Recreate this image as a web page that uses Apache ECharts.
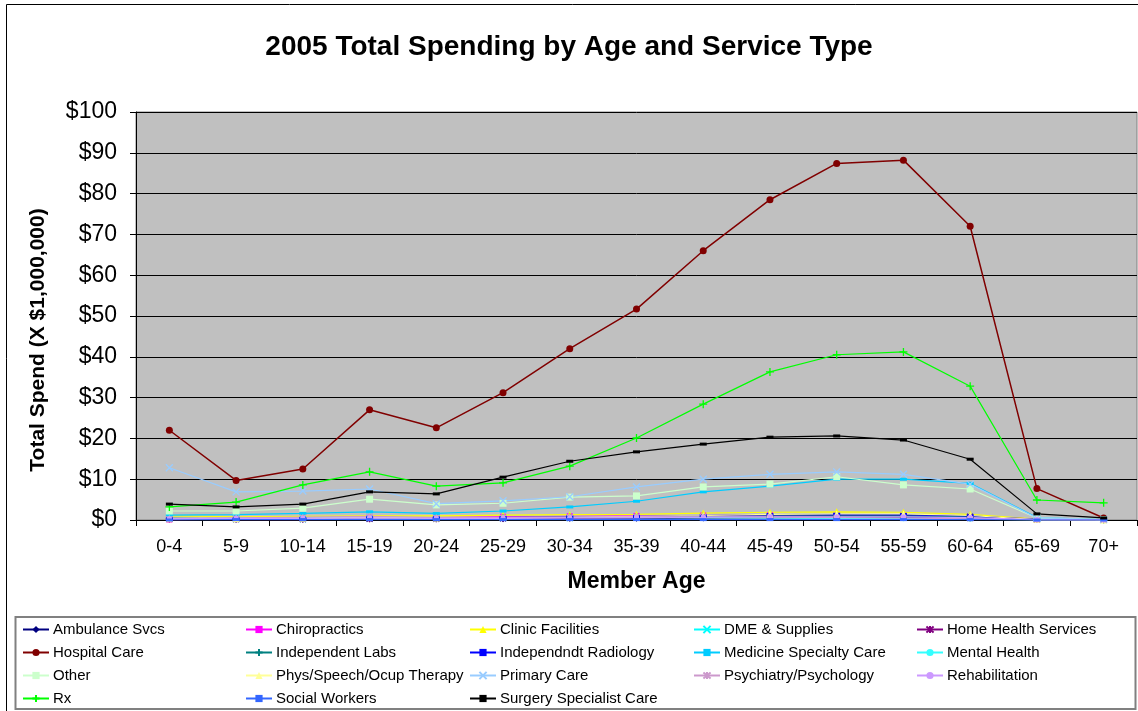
<!DOCTYPE html>
<html>
<head>
<meta charset="utf-8">
<script src="https://cdn.jsdelivr.net/npm/echarts@6/dist/echarts.min.js"></script>
<style>
  html, body { margin: 0; padding: 0; background: #fff; }
  #main { width: 1138px; height: 711px; }
</style>
</head>
<body>
<div id="main"></div>
<script>
// age groups
var ages = ['0-4', '5-9', '10-14', '15-19', '20-24', '25-29', '30-34', '35-39', '40-44', '45-49', '50-54', '55-59', '60-64', '65-69', '70+']

// spend per service type, $ millions
var ambulance = [0.2, 0.2, 0.2, 0.3, 0.3, 0.3, 0.4, 0.4, 0.5, 0.6, 0.6, 0.6, 0.5, 0.1, 0.1]
var chiro = [0.1, 0.2, 0.3, 0.6, 0.6, 0.8, 0.9, 1.0, 1.1, 1.2, 1.1, 0.9, 0.6, 0.1, 0.0]
var clinic = [1.0, 0.8, 0.9, 1.0, 1.0, 1.2, 1.3, 1.4, 1.7, 1.9, 2.0, 1.9, 1.4, 0.2, 0.1]
var dme = [0.3, 0.2, 0.2, 0.3, 0.3, 0.4, 0.5, 0.6, 0.7, 0.8, 0.9, 0.9, 0.8, 0.2, 0.1]
var homeHealth = [0.2, 0.1, 0.1, 0.2, 0.2, 0.3, 0.4, 0.5, 0.7, 0.9, 1.0, 1.1, 0.9, 0.2, 0.1]
var hospital = [22.0, 9.7, 12.5, 27.0, 22.6, 31.2, 42.0, 51.7, 66.0, 78.5, 87.4, 88.2, 72.0, 7.7, 0.5]
var labs = [0.4, 0.3, 0.4, 0.6, 0.5, 0.6, 0.7, 0.8, 0.9, 1.0, 1.0, 1.0, 0.8, 0.1, 0.0]
var radiology = [0.2, 0.2, 0.3, 0.5, 0.5, 0.6, 0.8, 0.9, 1.1, 1.3, 1.4, 1.3, 1.0, 0.1, 0.0]
var medicine = [1.2, 1.3, 1.6, 2.0, 1.6, 2.2, 3.2, 4.6, 6.9, 8.3, 10.0, 10.0, 9.0, 0.6, 0.1]
var mental = [0.3, 0.4, 0.5, 0.7, 0.5, 0.5, 0.6, 0.6, 0.6, 0.5, 0.4, 0.3, 0.2, 0.0, 0.0]
var other = [2.2, 2.2, 2.9, 5.1, 3.7, 4.1, 5.6, 5.9, 8.1, 8.8, 10.6, 8.6, 7.6, 0.5, 0.1]
var phys = [0.3, 0.3, 0.4, 0.6, 0.5, 0.6, 0.7, 0.9, 1.1, 1.4, 1.5, 1.5, 1.1, 0.1, 0.0]
var primary = [12.8, 6.9, 7.1, 7.6, 4.0, 4.7, 5.7, 8.1, 10.0, 11.2, 11.8, 11.2, 8.8, 0.5, 0.1]
var psych = [0.3, 0.5, 0.7, 0.9, 0.6, 0.6, 0.7, 0.8, 0.8, 0.7, 0.6, 0.5, 0.3, 0.0, 0.0]
var rehab = [0.3, 0.4, 0.4, 0.5, 0.4, 0.4, 0.5, 0.6, 0.7, 0.8, 0.8, 0.8, 0.6, 0.1, 0.0]
var rx = [3.2, 4.4, 8.6, 11.8, 8.3, 9.1, 13.2, 20.1, 28.4, 36.3, 40.5, 41.2, 32.8, 4.9, 4.2]
var social = [0.0, 0.1, 0.1, 0.1, 0.1, 0.1, 0.1, 0.1, 0.1, 0.1, 0.1, 0.1, 0.1, 0.0, 0.0]
var surgery = [3.9, 3.2, 3.9, 6.9, 6.4, 10.5, 14.4, 16.7, 18.6, 20.3, 20.6, 19.6, 14.9, 1.5, 0.5]

var yTicks = [0, 10, 20, 30, 40, 50, 60, 70, 80, 90, 100]

// marker shapes
var X = 'path://M0,0 L10,10 M10,0 L0,10'
var PLUS = 'path://M5,0 L5,10 M0,5 L10,5'
var STAR = 'path://M0,0 L10,10 M10,0 L0,10 M5,-1 L5,11'

var list = [
  { name: 'Ambulance Svcs', data: ambulance, color: '#000080', symbol: 'diamond', size: 7 },
  { name: 'Chiropractics', data: chiro, color: '#FF00FF', symbol: 'rect', size: 6 },
  { name: 'Clinic Facilities', data: clinic, color: '#FFFF00', symbol: 'triangle', size: 7 },
  { name: 'DME & Supplies', data: dme, color: '#00FFFF', symbol: X, size: 6, stroke: true },
  { name: 'Home Health Services', data: homeHealth, color: '#800080', symbol: STAR, size: 6, stroke: true },
  { name: 'Hospital Care', data: hospital, color: '#800000', symbol: 'circle', size: 7 },
  { name: 'Independent Labs', data: labs, color: '#008080', symbol: PLUS, size: 7, stroke: true },
  { name: 'Independndt Radiology', data: radiology, color: '#0000FF', symbol: 'rect', size: [7, 3] },
  { name: 'Medicine Specialty Care', data: medicine, color: '#00CCFF', symbol: 'rect', size: [7, 3] },
  { name: 'Mental Health', data: mental, color: '#33FFFF', symbol: 'circle', size: 5 },
  { name: 'Other', data: other, color: '#CCFFCC', symbol: 'rect', size: 7 },
  { name: 'Phys/Speech/Ocup Therapy', data: phys, color: '#FFFF99', symbol: 'triangle', size: 7 },
  { name: 'Primary Care', data: primary, color: '#99CCFF', symbol: X, size: 7, stroke: true },
  { name: 'Psychiatry/Psychology', data: psych, color: '#CC99CC', symbol: STAR, size: 6, stroke: true },
  { name: 'Rehabilitation', data: rehab, color: '#CC99FF', symbol: 'circle', size: 5 },
  { name: 'Rx', data: rx, color: '#00FF00', symbol: PLUS, size: 8, stroke: true },
  { name: 'Social Workers', data: social, color: '#3366FF', symbol: 'rect', size: [7, 3] },
  { name: 'Surgery Specialist Care', data: surgery, color: '#000000', symbol: 'rect', size: [7, 3] }
]

var font = 'Liberation Sans, Arial, sans-serif'

var series = list.map(function (s) {
  return {
    name: s.name,
    type: 'line',
    data: s.data,
    symbol: s.symbol,
    symbolSize: s.size,
    showSymbol: true,
    lineStyle: { color: s.color, width: s.name === 'Hospital Care' ? 1.5 : 1.2 },
    itemStyle: {
      color: s.color,
      borderColor: s.color,
      borderWidth: s.stroke ? 1.3 : 0
    }
  }
})

// legend laid out in 5 columns
var cols = [
  ['Ambulance Svcs', 'Hospital Care', 'Other', 'Rx'],
  ['Chiropractics', 'Independent Labs', 'Phys/Speech/Ocup Therapy', 'Social Workers'],
  ['Clinic Facilities', 'Independndt Radiology', 'Primary Care', 'Surgery Specialist Care'],
  ['DME & Supplies', 'Medicine Specialty Care', 'Psychiatry/Psychology'],
  ['Home Health Services', 'Mental Health', 'Rehabilitation']
]
var colLeft = [22, 245, 469, 693, 916]
var legends = cols.map(function (c, i) {
  return {
    orient: 'vertical',
    left: colLeft[i],
    top: 622,
    height: 90,
    padding: 0,
    itemGap: 8,
    itemWidth: 26,
    itemHeight: 9,
    data: c,
    selectedMode: false,
    textStyle: { fontFamily: font, fontSize: 15, color: '#000', padding: [0, 0, 0, -1] }
  }
})

var chart = echarts.init(document.getElementById('main'))
chart.setOption({
  animation: false,
  backgroundColor: '#fff',
  title: {
    text: '2005 Total Spending by Age and Service Type',
    left: 'center',
    top: 28,
    textStyle: { fontFamily: font, fontSize: 28, fontWeight: 'bold', color: '#000' }
  },
  graphic: [
    { type: 'rect', shape: { x: 6.5, y: 4.5, width: 1140, height: 730 }, style: { fill: 'none', stroke: '#000', lineWidth: 1 }, silent: true },
    { type: 'rect', shape: { x: 15.5, y: 617, width: 1120, height: 92 }, style: { fill: 'none', stroke: '#808080', lineWidth: 2 }, silent: true },
    {
      type: 'text',
      x: 38,
      y: 340,
      rotation: Math.PI / 2,
      silent: true,
      style: {
        text: 'Total Spend (X $1,000,000)',
        font: 'bold 21px ' + font,
        fill: '#000',
        align: 'center',
        verticalAlign: 'middle'
      }
    }
  ],
  legend: legends,
  grid: {
    left: 136,
    right: 1,
    top: 112,
    bottom: 191,
    show: true,
    backgroundColor: '#C0C0C0',
    borderColor: '#808080',
    borderWidth: 1
  },
  xAxis: {
    type: 'category',
    data: ages,
    boundaryGap: true,
    name: 'Member Age',
    nameLocation: 'middle',
    nameGap: 50,
    nameTextStyle: { fontFamily: font, fontSize: 23, fontWeight: 'bold', color: '#000' },
    axisLine: { lineStyle: { color: '#000', width: 1 } },
    axisTick: { show: true, length: 6, lineStyle: { color: '#000' } },
    axisLabel: { fontFamily: font, fontSize: 18, color: '#000', margin: 18 }
  },
  yAxis: {
    type: 'value',
    min: yTicks[0],
    max: yTicks[yTicks.length - 1],
    interval: 10,
    axisLine: { show: true, lineStyle: { color: '#000', width: 1 } },
    axisTick: { show: true, length: 6, lineStyle: { color: '#000' } },
    axisLabel: { fontFamily: font, fontSize: 23, color: '#000', margin: 19, formatter: '${value}' },
    splitLine: { lineStyle: { color: '#000', width: 1 } }
  },
  series: series
})
</script>
</body>
</html>
